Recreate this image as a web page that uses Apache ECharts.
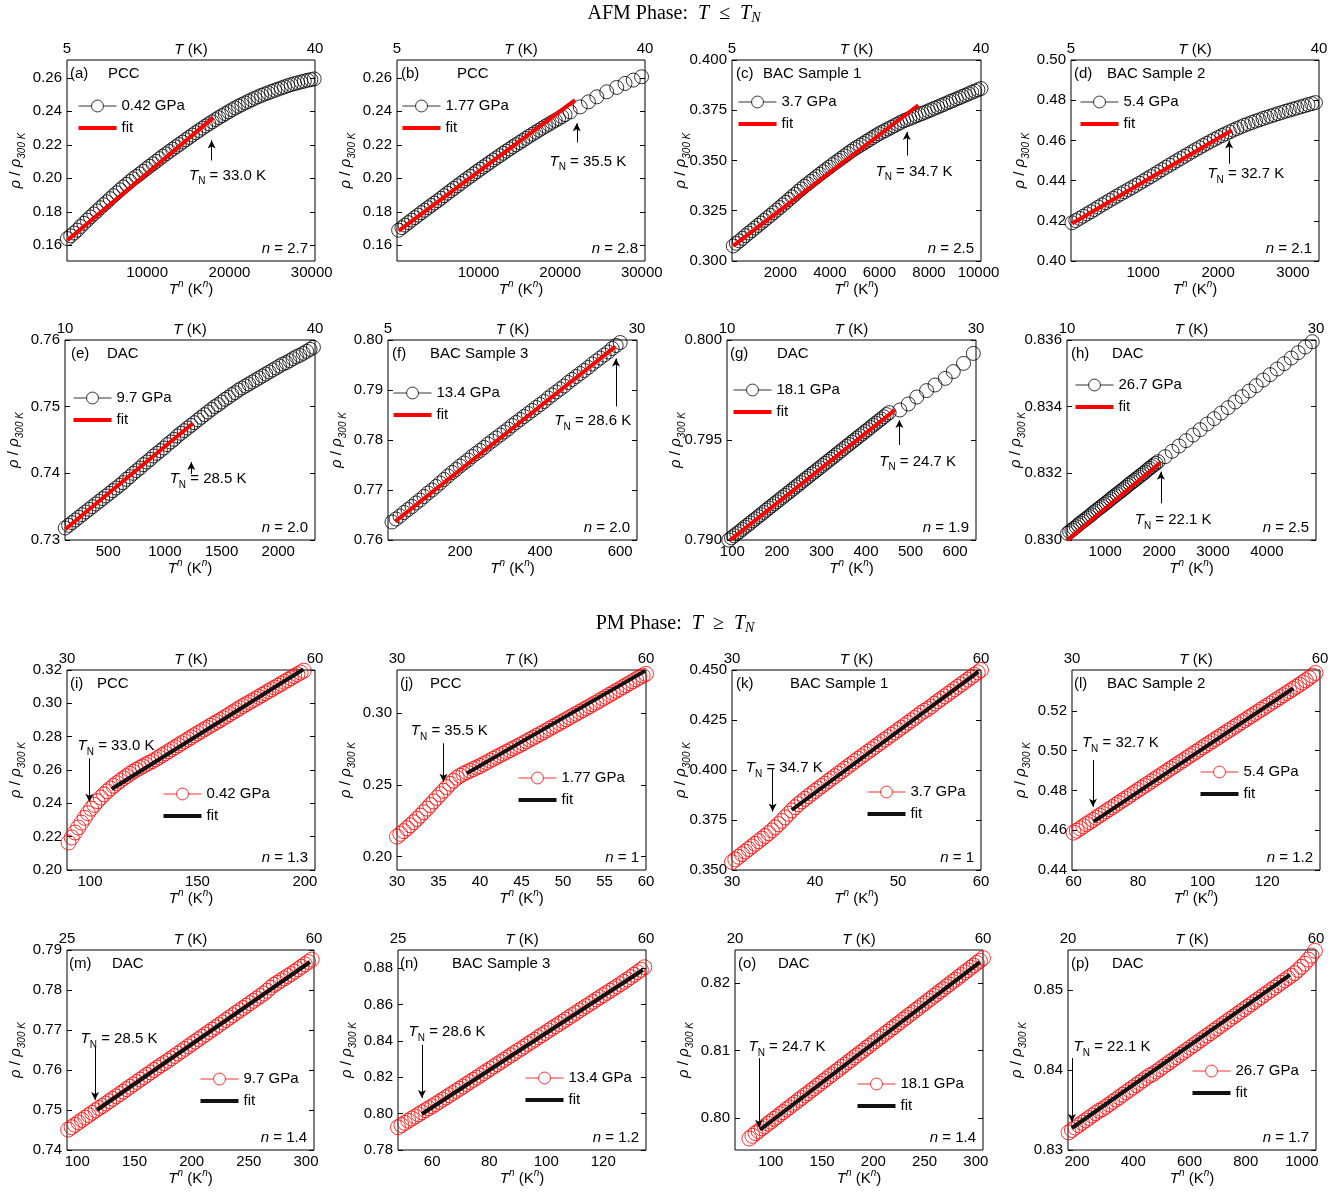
<!DOCTYPE html>
<html>
<head>
<meta charset="utf-8">
<script src="https://cdn.jsdelivr.net/npm/echarts@6/dist/echarts.min.js"></script>
<style>
html,body{margin:0;padding:0;background:#fff;}
#chart{width:1340px;height:1199px;}
</style>
</head>
<body>
<div id="chart"></div>
<script>
// ---------- panel descriptions ----------
const panelLetters = ['a','b','c','d','e','f','g','h','i','j','k','l','m','n','o','p'];
const sampleNames = ['PCC','PCC','BAC Sample 1','BAC Sample 2','DAC','BAC Sample 3','DAC','DAC',
                     'PCC','PCC','BAC Sample 1','BAC Sample 2','DAC','BAC Sample 3','DAC','DAC'];
const pressures = ['0.42 GPa','1.77 GPa','3.7 GPa','5.4 GPa','9.7 GPa','13.4 GPa','18.1 GPa','26.7 GPa',
                   '0.42 GPa','1.77 GPa','3.7 GPa','5.4 GPa','9.7 GPa','13.4 GPa','18.1 GPa','26.7 GPa'];
const exponents = ['2.7','2.8','2.5','2.1','2.0','2.0','1.9','2.5','1.3','1','1','1.2','1.4','1.2','1.4','1.7'];
const neelTemps = ['33.0','35.5','34.7','32.7','28.5','28.6','24.7','22.1',
                   '33.0','35.5','34.7','32.7','28.5','28.6','24.7','22.1'];

// temperature span (top axis, K)
const tempSpan = [[5,40],[5,40],[5,40],[5,40],[10,40],[5,30],[10,30],[10,30],
                  [30,60],[30,60],[30,60],[30,60],[25,60],[25,60],[20,60],[20,60]];
// T^n axis extent and tick labels
const xExtent = [[250,30400],[0,30400],[50,10100],[36,3347],[118,2324],[20,642],[88,647],[290,4910],
                 [89.3,204.7],[30,60],[30,60],[59.5,136.4],[91,307],[48,135],[65,307],[168,1050]];
const xTickValues = [
  [10000,20000,30000],[10000,20000,30000],[2000,4000,6000,8000,10000],[1000,2000,3000],
  [500,1000,1500,2000],[200,400,600],[100,200,300,400,500,600],[1000,2000,3000,4000],
  [100,150,200],[30,35,40,45,50,55,60],[30,40,50,60],[60,80,100,120],
  [100,150,200,250,300],[60,80,100,120],[100,150,200,250,300],[200,400,600,800,1000]
];
// normalized resistivity extent and tick labels
const yExtent = [[0.1506,0.2706],[0.1506,0.2706],[0.300,0.400],[0.40,0.50],[0.73,0.76],[0.76,0.80],[0.790,0.800],[0.830,0.836],
                 [0.20,0.32],[0.1907,0.3302],[0.35,0.45],[0.44,0.5406],[0.74,0.79],[0.78,0.89],[0.7953,0.8249],[0.83,0.855]];
const yTickValues = [
  [0.16,0.18,0.20,0.22,0.24,0.26],[0.16,0.18,0.20,0.22,0.24,0.26],[0.300,0.325,0.350,0.375,0.400],[0.40,0.42,0.44,0.46,0.48,0.50],
  [0.73,0.74,0.75,0.76],[0.76,0.77,0.78,0.79,0.80],[0.790,0.795,0.800],[0.830,0.832,0.834,0.836],
  [0.20,0.22,0.24,0.26,0.28,0.30,0.32],[0.20,0.25,0.30],[0.350,0.375,0.400,0.425,0.450],[0.44,0.46,0.48,0.50,0.52],
  [0.74,0.75,0.76,0.77,0.78,0.79],[0.78,0.80,0.82,0.84,0.86,0.88],[0.80,0.81,0.82],[0.83,0.84,0.85]
];
const yDecimals = [2,2,3,2,2,2,3,3,2,2,3,2,2,2,2,2];

// ---------- measured curves: [T^n, rho/rho300K] ----------
const pointsA = [[300,.1640],[700,.1656],[1100,.1673],[1500,.1690],[1900,.1712],[2300,.1731],[2700,.1750],[3100,.1769],
  [3500,.1787],[3900,.1805],[4300,.1824],[4700,.1842],[5100,.1859],[5500,.1878],[5900,.1896],[6300,.1913],[6700,.1931],
  [7100,.1948],[7500,.1964],[7900,.1981],[8300,.1997],[8700,.2011],[9100,.2026],[9500,.2042],[9900,.2057],[10300,.2072],
  [10700,.2086],[11100,.2101],[11500,.2117],[11900,.2132],[12300,.2146],[12700,.2160],[13100,.2174],[13500,.2188],
  [13900,.2202],[14300,.2216],[14700,.2230],[15100,.2244],[15500,.2258],[15900,.2272],[16300,.2285],[16700,.2299],
  [17100,.2312],[17500,.2325],[17900,.2337],[18300,.2350],[18700,.2362],[19100,.2374],[19500,.2386],[19900,.2397],
  [20300,.2409],[20700,.2420],[21100,.2430],[21500,.2440],[21900,.2450],[22300,.2459],[22700,.2469],[23100,.2478],
  [23500,.2487],[23900,.2495],[24300,.2503],[24700,.2510],[25100,.2518],[25500,.2525],[25900,.2532],[26300,.2539],
  [26700,.2546],[27100,.2553],[27500,.2559],[27900,.2565],[28300,.2570],[28700,.2575],[29100,.2580],[29500,.2585],
  [29900,.2589],[30300,.2593]];
const pointsB = [[200,.1690],[600,.1705],[1000,.1720],[1400,.1735],[1800,.1750],[2200,.1765],[2600,.1780],[3000,.1795],
  [3400,.1809],[3800,.1824],[4200,.1838],[4600,.1852],[5000,.1866],[5400,.1881],[5800,.1896],[6200,.1911],[6600,.1926],
  [7000,.1940],[7400,.1955],[7800,.1969],[8200,.1984],[8600,.1998],[9000,.2012],[9400,.2026],[9800,.2040],[10200,.2054],
  [10600,.2068],[11000,.2081],[11400,.2095],[11800,.2109],[12200,.2122],[12600,.2135],[13000,.2149],[13400,.2162],
  [13800,.2175],[14200,.2188],[14600,.2200],[15000,.2213],[15400,.2225],[15800,.2238],[16200,.2251],[16600,.2263],
  [17000,.2275],[17400,.2287],[17800,.2299],[18200,.2311],[18600,.2322],[19000,.2334],[19400,.2345],[19800,.2356],
  [20200,.2368],[20600,.2380],[21230,.2396],[22450,.2426],[23460,.2456],[24490,.2486],[25710,.2516],[26930,.2542],
  [27950,.2566],[28960,.2586],[29980,.2606]];
const pointsC = [[100,.3075],[225,.3088],[350,.3100],[475,.3113],[600,.3126],[725,.3139],[850,.3151],[975,.3164],
  [1100,.3177],[1225,.3189],[1350,.3202],[1475,.3215],[1600,.3227],[1725,.3240],[1850,.3253],[1975,.3266],[2100,.3279],
  [2225,.3292],[2350,.3306],[2475,.3319],[2600,.3332],[2725,.3346],[2850,.3359],[2975,.3372],[3100,.3384],[3225,.3396],
  [3350,.3408],[3475,.3420],[3600,.3432],[3725,.3444],[3850,.3455],[3975,.3467],[4100,.3479],[4225,.3490],[4350,.3501],
  [4475,.3512],[4600,.3523],[4725,.3535],[4850,.3546],[4975,.3557],[5100,.3566],[5225,.3576],[5350,.3585],[5475,.3595],
  [5600,.3604],[5725,.3614],[5850,.3623],[5975,.3633],[6100,.3641],[6225,.3649],[6350,.3657],[6475,.3665],[6600,.3673],
  [6725,.3681],[6850,.3689],[6975,.3697],[7100,.3703],[7225,.3709],[7350,.3715],[7475,.3722],[7600,.3728],[7725,.3734],
  [7850,.3740],[7975,.3747],[8100,.3753],[8225,.3760],[8350,.3766],[8475,.3773],[8600,.3779],[8725,.3786],[8850,.3793],
  [8975,.3799],[9100,.3806],[9225,.3812],[9350,.3819],[9475,.3825],[9600,.3832],[9725,.3839],[9850,.3845],[9975,.3852],
  [10100,.3858]];
const pointsD = [[50,.4190],[100,.4201],[150,.4212],[200,.4223],[250,.4234],[300,.4245],[350,.4256],[400,.4268],[450,.4279],
  [500,.4290],[550,.4301],[600,.4312],[650,.4323],[700,.4334],[750,.4344],[800,.4355],[850,.4365],[900,.4376],[950,.4387],
  [1000,.4398],[1050,.4409],[1100,.4420],[1150,.4431],[1200,.4443],[1250,.4454],[1300,.4466],[1350,.4477],[1400,.4488],
  [1450,.4499],[1500,.4510],[1550,.4521],[1600,.4532],[1650,.4543],[1700,.4554],[1750,.4564],[1800,.4575],[1850,.4585],
  [1900,.4595],[1950,.4605],[2000,.4615],[2050,.4624],[2100,.4633],[2150,.4642],[2200,.4651],[2250,.4659],[2300,.4667],
  [2350,.4675],[2400,.4682],[2450,.4689],[2500,.4696],[2550,.4702],[2600,.4709],[2650,.4715],[2700,.4721],[2750,.4727],
  [2800,.4733],[2850,.4739],[2900,.4745],[2950,.4750],[3000,.4756],[3050,.4761],[3100,.4767],[3150,.4772],[3200,.4778],
  [3250,.4783],[3300,.4788],[3350,.4793]];
const pointsE = [[120,.7318],[150,.7322],[180,.7326],[210,.7330],[240,.7334],[270,.7338],[300,.7342],[330,.7346],[360,.7350],
  [390,.7354],[420,.7358],[450,.7362],[480,.7366],[510,.7370],[540,.7374],[570,.7378],[600,.7382],[630,.7386],[660,.7391],
  [690,.7395],[720,.7400],[750,.7404],[780,.7408],[810,.7413],[840,.7417],[870,.7421],[900,.7426],[930,.7430],[960,.7434],
  [990,.7438],[1020,.7443],[1050,.7447],[1080,.7451],[1110,.7456],[1140,.7460],[1170,.7464],[1200,.7468],[1230,.7472],
  [1260,.7476],[1290,.7480],[1320,.7484],[1350,.7488],[1380,.7492],[1410,.7496],[1440,.7500],[1470,.7503],[1500,.7507],
  [1530,.7511],[1560,.7514],[1590,.7518],[1620,.7521],[1650,.7525],[1680,.7528],[1710,.7531],[1740,.7534],[1770,.7537],
  [1800,.7540],[1830,.7543],[1860,.7546],[1890,.7549],[1920,.7552],[1950,.7555],[1980,.7558],[2010,.7561],[2040,.7564],
  [2070,.7566],[2100,.7569],[2130,.7572],[2160,.7575],[2190,.7577],[2220,.7580],[2250,.7583],[2280,.7586],[2310,.7589]];
const pointsF = [[30,.7636],[40,.7642],[50,.7648],[60,.7655],[70,.7661],[80,.7667],[90,.7674],[100,.7680],[110,.7687],
  [120,.7694],[130,.7700],[140,.7707],[150,.7714],[160,.7721],[170,.7728],[180,.7735],[190,.7741],[200,.7748],[210,.7754],
  [220,.7760],[230,.7767],[240,.7773],[250,.7779],[260,.7785],[270,.7792],[280,.7798],[290,.7804],[300,.7810],[310,.7816],
  [320,.7822],[330,.7829],[340,.7835],[350,.7841],[360,.7847],[370,.7853],[380,.7859],[390,.7865],[400,.7871],[410,.7877],
  [420,.7884],[430,.7890],[440,.7896],[450,.7902],[460,.7908],[470,.7915],[480,.7921],[490,.7927],[500,.7933],[510,.7939],
  [520,.7945],[530,.7952],[540,.7958],[550,.7964],[560,.7970],[570,.7976],[580,.7983],[590,.7989],[600,.7995],[610,.8001],
  [620,.8007],[630,.8013]];
const pointsG = [[92,.79000],[98,.79011],[104,.79021],[110,.79032],[116,.79042],[122,.79053],[128,.79064],[134,.79074],
  [140,.79085],[146,.79096],[152,.79106],[158,.79117],[164,.79127],[170,.79138],[176,.79149],[182,.79160],[188,.79170],
  [194,.79181],[200,.79191],[206,.79202],[212,.79213],[218,.79223],[224,.79234],[230,.79244],[236,.79255],[242,.79266],
  [248,.79276],[254,.79287],[260,.79298],[266,.79308],[272,.79319],[278,.79330],[284,.79340],[290,.79351],[296,.79361],
  [302,.79372],[308,.79383],[314,.79393],[320,.79404],[326,.79414],[332,.79425],[338,.79436],[344,.79446],[350,.79457],
  [356,.79468],[362,.79478],[368,.79489],[374,.79499],[380,.79510],[386,.79521],[392,.79531],[398,.79542],[404,.79552],
  [410,.79563],[416,.79574],[422,.79584],[428,.79595],[434,.79605],[440,.79616],[446,.79627],[452,.79637],[476,.79650],
  [495,.79680],[514,.79715],[536,.79747],[555,.79775],[578,.79808],[596,.79842],[619,.79883],[641,.79933]];
const pointsH = [[300,.83020],[340,.83025],[380,.83030],[420,.83035],[460,.83040],[500,.83046],[540,.83051],[580,.83056],
  [620,.83061],[660,.83066],[700,.83071],[740,.83076],[780,.83082],[820,.83087],[860,.83092],[900,.83097],[940,.83102],
  [980,.83107],[1020,.83112],[1060,.83117],[1100,.83123],[1140,.83128],[1180,.83133],[1220,.83138],[1260,.83143],
  [1300,.83148],[1340,.83153],[1380,.83158],[1420,.83164],[1460,.83169],[1500,.83174],[1540,.83179],[1580,.83184],
  [1620,.83189],[1660,.83194],[1700,.83199],[1740,.83204],[1780,.83210],[1820,.83215],[1860,.83220],[1900,.83225],
  [1940,.83230],[1980,.83235],[2110,.83250],[2240,.83266],[2370,.83282],[2500,.83298],[2630,.83315],[2760,.83331],
  [2890,.83348],[3020,.83364],[3150,.83381],[3280,.83397],[3410,.83414],[3540,.83430],[3670,.83447],[3800,.83463],
  [3930,.83480],[4060,.83496],[4190,.83513],[4320,.83529],[4450,.83546],[4580,.83562],[4710,.83579],[4840,.83595]];
const pointsI = [[90,.2165],[91.5,.2195],[93,.2225],[94.5,.2255],[96,.2284],[97.5,.2313],[99,.2341],[100.5,.2368],
  [102,.2391],[103.5,.2413],[105,.2435],[106.5,.2454],[108,.2472],[109.5,.2489],[111,.2505],[112.5,.2521],[114,.2535],
  [115.5,.2550],[117,.2563],[118.5,.2577],[120,.2590],[121.5,.2601],[123,.2612],[124.5,.2622],[126,.2633],[127.5,.2643],
  [129,.2653],[130.5,.2664],[132,.2676],[133.5,.2688],[135,.2700],[136.5,.2712],[138,.2724],[139.5,.2736],[141,.2748],
  [142.5,.2760],[144,.2772],[145.5,.2784],[147,.2796],[148.5,.2808],[150,.2820],[151.5,.2831],[153,.2843],[154.5,.2854],
  [156,.2866],[157.5,.2877],[159,.2888],[160.5,.2899],[162,.2911],[163.5,.2923],[165,.2935],[166.5,.2947],[168,.2959],
  [169.5,.2971],[171,.2983],[172.5,.2994],[174,.3005],[175.5,.3016],[177,.3027],[178.5,.3039],[180,.3050],[181.5,.3061],
  [183,.3073],[184.5,.3084],[186,.3095],[187.5,.3106],[189,.3117],[190.5,.3129],[192,.3140],[193.5,.3151],[195,.3163],
  [196.5,.3174],[198,.3185],[199.5,.3196],[201,.3207],[202.5,.3217]];
const pointsJ = [[30.0,.2140],[30.4,.2159],[30.8,.2178],[31.2,.2198],[31.6,.2219],[32.0,.2240],[32.4,.2263],[32.8,.2286],
  [33.2,.2310],[33.6,.2335],[34.0,.2360],[34.4,.2385],[34.8,.2410],[35.2,.2435],[35.6,.2460],[36.0,.2485],[36.4,.2508],
  [36.8,.2530],[37.2,.2550],[37.6,.2565],[38.0,.2578],[38.4,.2589],[38.8,.2600],[39.2,.2611],[39.6,.2622],[40.0,.2632],
  [40.4,.2645],[40.8,.2657],[41.2,.2670],[41.6,.2682],[42.0,.2695],[42.4,.2707],[42.8,.2719],[43.2,.2731],[43.6,.2743],
  [44.0,.2755],[44.4,.2767],[44.8,.2779],[45.2,.2791],[45.6,.2804],[46.0,.2817],[46.4,.2829],[46.8,.2842],[47.2,.2855],
  [47.6,.2867],[48.0,.2880],[48.4,.2893],[48.8,.2906],[49.2,.2919],[49.6,.2932],[50.0,.2945],[50.4,.2958],[50.8,.2971],
  [51.2,.2984],[51.6,.2997],[52.0,.3010],[52.4,.3023],[52.8,.3036],[53.2,.3049],[53.6,.3062],[54.0,.3075],[54.4,.3088],
  [54.8,.3102],[55.2,.3115],[55.6,.3129],[56.0,.3142],[56.4,.3156],[56.8,.3169],[57.2,.3183],[57.6,.3196],[58.0,.3210],
  [58.4,.3223],[58.8,.3237],[59.2,.3250],[59.6,.3263],[60.0,.3275]];
const pointsK = [[30.0,.3540],[30.4,.3553],[30.8,.3566],[31.2,.3579],[31.6,.3592],[32.0,.3605],[32.4,.3618],[32.8,.3631],
  [33.2,.3644],[33.6,.3657],[34.0,.3670],[34.4,.3684],[34.8,.3698],[35.2,.3713],[35.6,.3729],[36.0,.3745],[36.4,.3763],
  [36.8,.3781],[37.2,.3798],[37.6,.3814],[38.0,.3829],[38.4,.3843],[38.8,.3856],[39.2,.3869],[39.6,.3882],[40.0,.3895],
  [40.4,.3907],[40.8,.3920],[41.2,.3932],[41.6,.3945],[42.0,.3957],[42.4,.3969],[42.8,.3982],[43.2,.3994],[43.6,.4006],
  [44.0,.4019],[44.4,.4031],[44.8,.4044],[45.2,.4056],[45.6,.4068],[46.0,.4080],[46.4,.4092],[46.8,.4104],[47.2,.4116],
  [47.6,.4128],[48.0,.4140],[48.4,.4152],[48.8,.4164],[49.2,.4176],[49.6,.4188],[50.0,.4200],[50.4,.4212],[50.8,.4224],
  [51.2,.4236],[51.6,.4248],[52.0,.4260],[52.4,.4272],[52.8,.4286],[53.2,.4296],[53.6,.4306],[54.0,.4318],[54.4,.4332],
  [54.8,.4344],[55.2,.4356],[55.6,.4368],[56.0,.4380],[56.4,.4392],[56.8,.4404],[57.2,.4416],[57.6,.4428],[58.0,.4440],
  [58.4,.4452],[58.8,.4464],[59.2,.4476],[59.6,.4488],[60.0,.4500]];
const pointsL = [[60,.4588],[61,.4598],[62,.4609],[63,.4620],[64,.4631],[65,.4641],[66,.4652],[67,.4663],[68,.4674],
  [69,.4684],[70,.4695],[71,.4706],[72,.4716],[73,.4727],[74,.4738],[75,.4749],[76,.4759],[77,.4770],[78,.4781],[79,.4792],
  [80,.4802],[81,.4813],[82,.4824],[83,.4834],[84,.4845],[85,.4856],[86,.4867],[87,.4877],[88,.4888],[89,.4899],[90,.4910],
  [91,.4920],[92,.4931],[93,.4942],[94,.4952],[95,.4963],[96,.4974],[97,.4985],[98,.4995],[99,.5006],[100,.5017],[101,.5027],
  [102,.5038],[103,.5048],[104,.5059],[105,.5069],[106,.5080],[107,.5090],[108,.5101],[109,.5111],[110,.5122],[111,.5132],
  [112,.5143],[113,.5153],[114,.5164],[115,.5174],[116,.5185],[117,.5195],[118,.5206],[119,.5216],[120,.5227],[121,.5237],
  [122,.5248],[123,.5258],[124,.5269],[125,.5279],[126,.5290],[127,.5300],[128,.5311],[129,.5321],[130,.5332],[131,.5343],
  [132,.5354],[133,.5366],[134,.5378],[135,.5391]];
const pointsM = [[92,.7451],[95,.7457],[98,.7463],[101,.7469],[104,.7475],[107,.7481],[110,.7487],[113,.7493],[116,.7499],
  [119,.7505],[122,.7510],[125,.7516],[128,.7522],[131,.7528],[134,.7534],[137,.7540],[140,.7546],[143,.7552],[146,.7558],
  [149,.7564],[152,.7570],[155,.7576],[158,.7582],[161,.7588],[164,.7594],[167,.7600],[170,.7606],[173,.7612],[176,.7617],
  [179,.7623],[182,.7629],[185,.7635],[188,.7641],[191,.7647],[194,.7653],[197,.7659],[200,.7665],[203,.7671],[206,.7677],
  [209,.7683],[212,.7689],[215,.7695],[218,.7701],[221,.7707],[224,.7713],[227,.7719],[230,.7725],[233,.7731],[236,.7737],
  [239,.7743],[242,.7749],[245,.7755],[248,.7761],[251,.7767],[254,.7773],[257,.7779],[260,.7785],[263,.7791],[266,.7798],
  [269,.7806],[272,.7813],[275,.7818],[278,.7824],[281,.7829],[284,.7835],[287,.7840],[290,.7846],[293,.7852],[296,.7858],
  [299,.7864],[302,.7870],[305,.7876]];
const pointsN = [[48.0,.7925],[49.2,.7937],[50.4,.7949],[51.6,.7961],[52.8,.7973],[54.0,.7984],[55.2,.7996],[56.4,.8007],
  [57.6,.8019],[58.8,.8030],[60.0,.8041],[61.2,.8053],[62.4,.8065],[63.6,.8077],[64.8,.8089],[66.0,.8101],[67.2,.8113],
  [68.4,.8125],[69.6,.8137],[70.8,.8149],[72.0,.8162],[73.2,.8174],[74.4,.8186],[75.6,.8198],[76.8,.8210],[78.0,.8223],
  [79.2,.8235],[80.4,.8247],[81.6,.8260],[82.8,.8272],[84.0,.8284],[85.2,.8296],[86.4,.8309],[87.6,.8321],[88.8,.8333],
  [90.0,.8346],[91.2,.8358],[92.4,.8370],[93.6,.8383],[94.8,.8395],[96.0,.8407],[97.2,.8420],[98.4,.8432],[99.6,.8444],
  [100.8,.8457],[102.0,.8469],[103.2,.8481],[104.4,.8493],[105.6,.8505],[106.8,.8517],[108.0,.8530],[109.2,.8542],
  [110.4,.8554],[111.6,.8567],[112.8,.8579],[114.0,.8591],[115.2,.8603],[116.4,.8615],[117.6,.8628],[118.8,.8640],
  [120.0,.8652],[121.2,.8664],[122.4,.8676],[123.6,.8688],[124.8,.8700],[126.0,.8712],[127.2,.8725],[128.4,.8738],
  [129.6,.8751],[130.8,.8764],[132.0,.8778],[133.2,.8791],[134.4,.8805]];
const pointsO = [[79,.7970],[82,.7974],[85,.7978],[88,.7981],[91,.7985],[94,.7988],[97,.7992],[100,.7995],[103,.7999],
  [106,.8002],[109,.8006],[112,.8009],[115,.8013],[118,.8016],[121,.8020],[124,.8023],[127,.8027],[130,.8030],[133,.8034],
  [136,.8037],[139,.8041],[142,.8044],[145,.8048],[148,.8051],[151,.8055],[154,.8058],[157,.8062],[160,.8065],[163,.8069],
  [166,.8072],[169,.8076],[172,.8079],[175,.8083],[178,.8086],[181,.8090],[184,.8093],[187,.8097],[190,.8100],[193,.8104],
  [196,.8107],[199,.8111],[202,.8114],[205,.8118],[208,.8121],[211,.8125],[214,.8128],[217,.8132],[220,.8135],[223,.8139],
  [226,.8142],[229,.8146],[232,.8149],[235,.8153],[238,.8156],[241,.8160],[244,.8163],[247,.8167],[250,.8170],[253,.8174],
  [256,.8177],[259,.8181],[262,.8184],[265,.8188],[268,.8191],[271,.8195],[274,.8198],[277,.8202],[280,.8205],[283,.8209],
  [286,.8212],[289,.8216],[292,.8219],[295,.8223],[298,.8226],[301,.8230],[304,.8233],[307,.8237]];
const pointsP = [[170,.8322],[182,.8325],[194,.8328],[206,.8331],[218,.8334],[230,.8337],[242,.8340],[254,.8343],
  [266,.8346],[278,.8349],[290,.8351],[302,.8354],[314,.8357],[326,.8360],[338,.8363],[350,.8366],[362,.8369],[374,.8372],
  [386,.8375],[398,.8378],[410,.8381],[422,.8384],[434,.8387],[446,.8390],[458,.8393],[470,.8395],[482,.8398],[494,.8401],
  [506,.8404],[518,.8407],[530,.8410],[542,.8413],[554,.8416],[566,.8419],[578,.8422],[590,.8425],[602,.8428],[614,.8431],
  [626,.8434],[638,.8437],[650,.8440],[662,.8443],[674,.8446],[686,.8449],[698,.8452],[710,.8455],[722,.8458],[734,.8461],
  [746,.8464],[758,.8467],[770,.8470],[782,.8473],[794,.8476],[806,.8479],[818,.8482],[830,.8485],[842,.8488],[854,.8491],
  [866,.8494],[878,.8497],[890,.8500],[902,.8503],[914,.8506],[926,.8509],[938,.8512],[950,.8515],[962,.8518],[974,.8521],
  [986,.8525],[998,.8529],[1010,.8533],[1022,.8538],[1034,.8543],[1046,.8549]];

// straight-line fits over the fitted range
const fitLines = [
  [[300,.1630],[18040,.2362]], [[200,.1686],[21830,.2466]], [[100,.3075],[7570,.3775]], [[50,.4187],[2180,.4649]],
  [[120,.7316],[1247,.7475]], [[38,.7637],[588,.7987]], [[95,.7900],[465,.7965]], [[300,.8300],[2019,.83232]],
  [[110.1,.2486],[199.3,.3204]], [[38.4,.2581],[59.9,.3296]], [[37.2,.3800],[59.7,.4492]], [[66.2,.4643],[128.1,.5314]],
  [[117.2,.7500],[303.5,.7870]], [[56.4,.7998],[133.9,.8790]], [[89.4,.7983],[304,.8231]], [[182,.83275],[957.6,.8519]]
];
// Neel-temperature arrows: [x, tail y, head y]
const neelArrows = [
  [17840,.2106,.2226],[22040,.2214,.2328],[7105,.3525,.3642],[2147,.4484,.4599],
  [1232,.7399,.7417],[589.5,.7867,.7963],[475,.79475,.7960],[2032,.8311,.83205],
  [99.7,.267,.241],[35.6,.2791,.2523],[34.9,.4008,.3792],[66.0,.4953,.4718],
  [115.5,.7655,.7525],[56.4,.8378,.8086],[88.4,.8089,.7986],[182,.8415,.8335]
];
// Neel-temperature label anchors (text centre) in data units
const neelLabelAt = [
  [19760,.2016],[23400,.2100],[7395,.3445],[2370,.4433],
  [1381,.73915],[531.5,.7838],[516,.79393],[2260,.8306],
  [112.1,.2744],[36.3,.2877],[36.3,.401],[74.5,.5039],
  [136.5,.7678],[65.2,.8449],[115.7,.8105],[324.5,.8429]
];
const pointSets = [pointsA,pointsB,pointsC,pointsD,pointsE,pointsF,pointsG,pointsH,
                   pointsI,pointsJ,pointsK,pointsL,pointsM,pointsN,pointsO,pointsP];

// ---------- page layout (pixels) ----------
const gridBoxes = [
  [67,60,248,201],[397,60,248,201],[732,60,249,201],[1071,60,248,201],
  [65,340,250,200],[388,340,249,200],[727,340,249,200],[1067,340,249,200],
  [67,670,248,200],[397,670,249,200],[732,670,249,200],[1072,670,248,200],
  [67,950,247,200],[398,950,248,200],[735,950,248,200],[1068,950,248,200]
];
// legend: icon left edge, centre of first row
const legendAt = [
  [78,105],[402,105],[738,101],[1080,101],[73,397],[393,392],[733,389],[1075,384],
  [163,793],[518,777],[867,791],[1200,771],[200,1078],[525,1077],[857,1083],[1192,1070]
];
// panel tag offsets: [tag x offset, sample-name x offset]
const tagOffsets = [
  [3,41],[4,60],[4,31],[3,36],[6,42],[4,42],[3,50],[4,45],
  [3,30],[3,33],[4,58],[2,35],[2,45],[2,54],[3,43],[3,44]
];

const FONT = 'Liberation Sans, Arial, sans-serif';
const SERIF = 'Liberation Serif, Times New Roman, serif';

function richSet(size, family) {
  return {
    r:   {fontFamily: family, fontSize: size, color: '#000', lineHeight: 22},
    i:   {fontFamily: family, fontSize: size, fontStyle: 'italic', color: '#000', lineHeight: 22},
    sub: {fontFamily: family, fontSize: Math.round(size * 0.68), color: '#000', lineHeight: 10, verticalAlign: 'bottom'},
    subi:{fontFamily: family, fontSize: Math.round(size * 0.68), fontStyle: 'italic', color: '#000', lineHeight: 10, verticalAlign: 'bottom'},
    sup: {fontFamily: family, fontSize: Math.round(size * 0.68), fontStyle: 'italic', color: '#000', lineHeight: 10, verticalAlign: 'top'}
  };
}
const rich15 = richSet(15, FONT);
const richTitle = richSet(20, SERIF);

const ringIcon = 'path://M0 10H22M42 10H64M42 10A10 10 0 1 1 22 10A10 10 0 1 1 42 10';
const barIcon = 'path://M0 0H40V4H0Z';

const grids = [], xAxes = [], yAxes = [], series = [], legends = [], graphics = [];

panelLetters.forEach((letter, k) => {
  const [L, T, W, H] = gridBoxes[k];
  const afm = k < 8;
  const markColor = afm ? '#000' : '#ff0000';
  const fitColor = afm ? '#ff0000' : '#111';

  grids.push({left: L, top: T, width: W, height: H, show: true, borderColor: '#000', borderWidth: 1,
              backgroundColor: 'transparent'});

  // bottom T^n axis
  xAxes.push({
    gridIndex: k, type: 'value', position: 'bottom', min: xExtent[k][0], max: xExtent[k][1],
    axisLine: {show: false}, axisTick: {show: false}, splitLine: {show: false},
    axisLabel: {customValues: xTickValues[k], formatter: v => String(v), color: '#000',
                fontFamily: FONT, fontSize: 15, margin: 4, showMinLabel: true, showMaxLabel: true},
    name: '{i|T}{sup|n}{r| (K}{sup|n}{r|)}', nameLocation: 'middle', nameGap: 18,
    nameMoveOverlap: false, nameTextStyle: {rich: rich15}
  });
  // top temperature axis
  xAxes.push({
    gridIndex: k, type: 'value', position: 'top', min: tempSpan[k][0], max: tempSpan[k][1],
    axisLine: {show: false}, axisTick: {show: false}, splitLine: {show: false},
    axisLabel: {customValues: tempSpan[k], formatter: v => String(v), color: '#000',
                fontFamily: FONT, fontSize: 15, margin: 4, showMinLabel: true, showMaxLabel: true},
    name: '{i|T}{r| (K)}', nameLocation: 'middle', nameGap: -1, nameMoveOverlap: false,
    nameTextStyle: {rich: rich15}
  });

  const dec = yDecimals[k];
  const tickStyle = {show: true, inside: true, length: 5, customValues: yTickValues[k],
                     lineStyle: {color: '#000', width: 1}};
  yAxes.push({
    gridIndex: k, type: 'value', position: 'left', min: yExtent[k][0], max: yExtent[k][1],
    axisLine: {show: false}, axisTick: tickStyle, splitLine: {show: false},
    axisLabel: {customValues: yTickValues[k], formatter: v => v.toFixed(dec), color: '#000',
                fontFamily: FONT, fontSize: 15, margin: 5, showMinLabel: true, showMaxLabel: true},
    name: '{i|ρ}{r| / }{i|ρ}{subi|300 K}', nameLocation: 'middle', nameGap: 40, nameRotate: 90,
    nameMoveOverlap: false, nameTextStyle: {rich: rich15}
  });
  yAxes.push({
    gridIndex: k, type: 'value', position: 'right', min: yExtent[k][0], max: yExtent[k][1],
    axisLine: {show: false}, axisTick: tickStyle, splitLine: {show: false},
    axisLabel: {show: false}
  });

  series.push({
    type: 'scatter', name: pressures[k], xAxisIndex: 2 * k, yAxisIndex: 2 * k,
    data: pointSets[k], symbol: 'circle', symbolSize: afm ? 14 : 15, silent: true, z: 2,
    itemStyle: {color: 'rgba(0,0,0,0)', borderColor: markColor, borderWidth: 1}
  });

  const arrow = neelArrows[k];
  series.push({
    type: 'line', name: 'fit', xAxisIndex: 2 * k, yAxisIndex: 2 * k,
    data: fitLines[k], symbol: 'none', silent: true, z: 3,
    lineStyle: {color: fitColor, width: 4},
    markLine: {
      silent: true, symbol: ['none', 'arrow'], symbolSize: [6, 8], animation: false,
      lineStyle: {color: '#000', width: 1, type: 'solid'}, label: {show: false},
      emphasis: {disabled: true},
      data: [[{coord: [arrow[0], arrow[1]]}, {coord: [arrow[0], arrow[2]]}]]
    },
    markPoint: {
      silent: true, symbol: 'circle', symbolSize: 1, itemStyle: {color: 'rgba(0,0,0,0)'},
      label: {show: true, position: 'inside', formatter: '{i|T}{sub|N}{r| = ' + neelTemps[k] + ' K}', rich: rich15},
      data: [{coord: neelLabelAt[k]}]
    }
  });

  const [lx, ly] = legendAt[k];
  legends.push({
    left: lx, top: ly - 6.5, orient: 'vertical', padding: 0, itemWidth: 38, itemHeight: 13, itemGap: 7,
    selectedMode: false, symbolKeepAspect: true,
    textStyle: {fontFamily: FONT, fontSize: 15, color: '#000', lineHeight: 13},
    data: [
      {name: pressures[k], icon: ringIcon,
       itemStyle: {color: 'rgba(0,0,0,0)', borderColor: markColor, borderWidth: 1}},
      {name: 'fit', icon: barIcon, itemStyle: {color: fitColor, borderWidth: 0}}
    ]
  });

  // panel tag, sample name, exponent
  const [tagDx, nameDx] = tagOffsets[k];
  graphics.push({type: 'text', x: L + tagDx, y: T + 14, silent: true,
    style: {text: '(' + letter + ')', fontFamily: FONT, fontSize: 15, fill: '#000', align: 'left', verticalAlign: 'middle'}});
  graphics.push({type: 'text', x: L + nameDx, y: T + 14, silent: true,
    style: {text: sampleNames[k], fontFamily: FONT, fontSize: 15, fill: '#000', align: 'left', verticalAlign: 'middle'}});
  graphics.push({type: 'text', x: L + W - 7, y: T + H - 12, silent: true,
    style: {text: '{i|n}{r| = ' + exponents[k] + '}', rich: rich15, align: 'right', verticalAlign: 'middle'}});
});

// phase headings
graphics.push({type: 'text', x: 674, y: 14, silent: true,
  style: {text: '{r|AFM Phase:  }{i|T}{r|  ≤  }{i|T}{subi|N}', rich: richTitle, align: 'center', verticalAlign: 'middle'}});
graphics.push({type: 'text', x: 675, y: 624, silent: true,
  style: {text: '{r|PM Phase:  }{i|T}{r|  ≥  }{i|T}{subi|N}', rich: richTitle, align: 'center', verticalAlign: 'middle'}});

const chart = echarts.init(document.getElementById('chart'), null, {renderer: 'canvas'});
chart.setOption({
  animation: false,
  backgroundColor: '#fff',
  grid: grids,
  xAxis: xAxes,
  yAxis: yAxes,
  legend: legends,
  series: series,
  graphic: graphics
});
</script>
</body>
</html>
